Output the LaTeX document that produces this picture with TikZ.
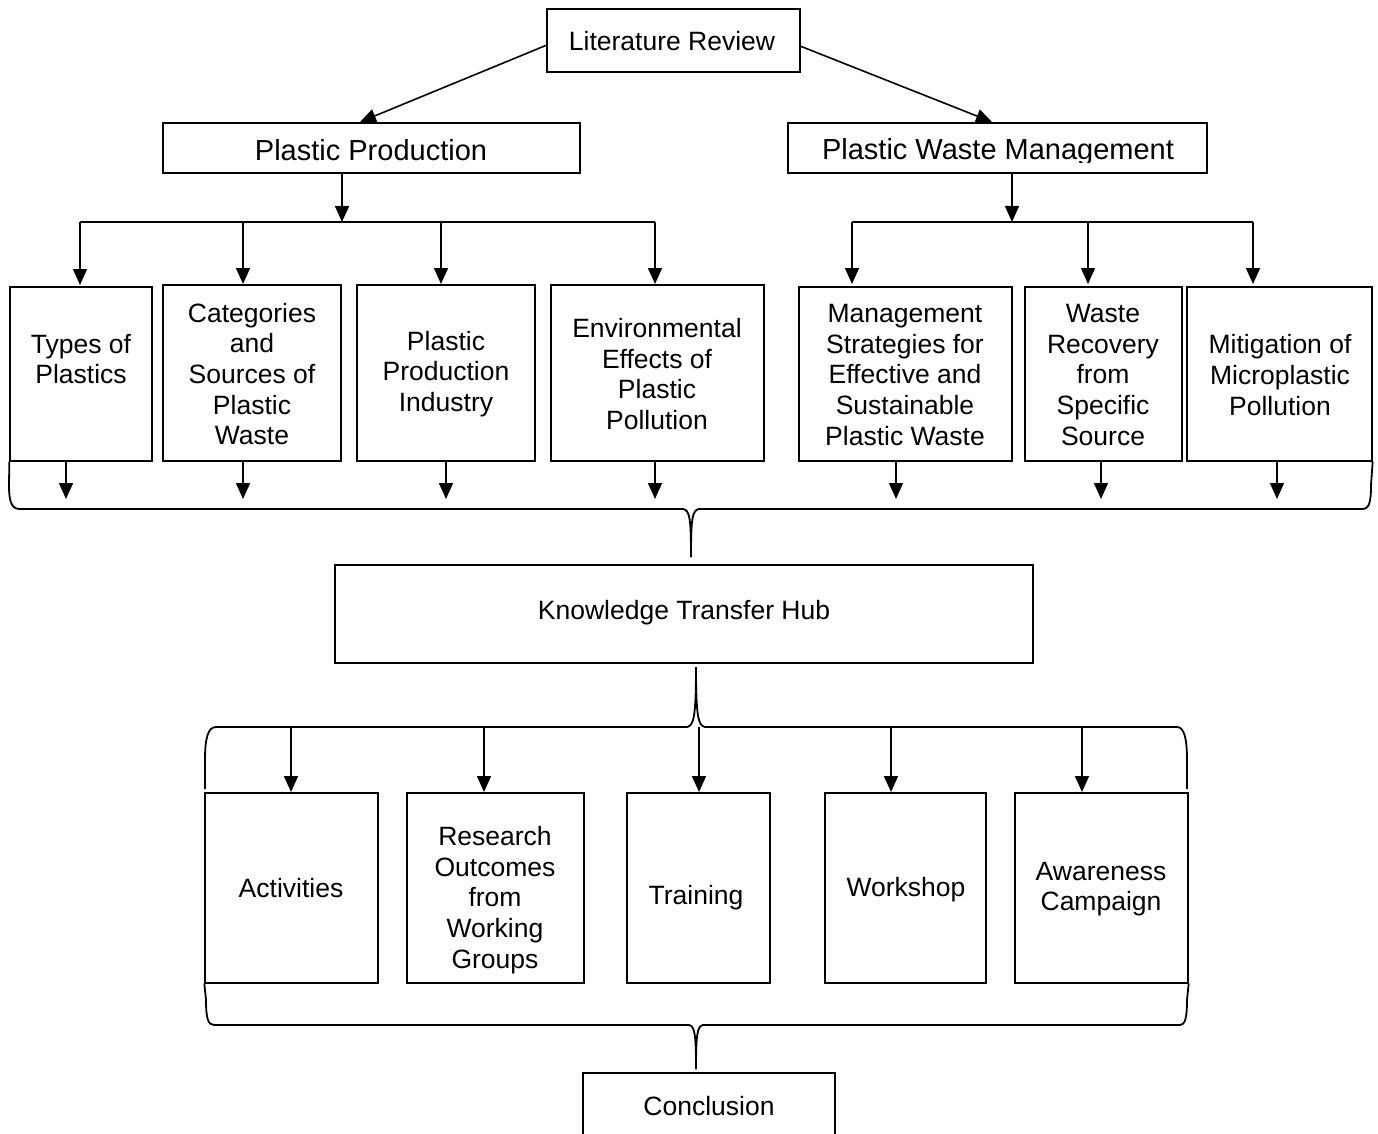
\documentclass[tikz,border=0pt]{standalone}
\usepackage{fontspec}
\setmainfont{Liberation Sans}
\usetikzlibrary{arrows.meta,positioning,fit}
\begin{document}
\begin{tikzpicture}[x=1pt,y=-1pt,
  box/.style={draw, line width=1.3pt, inner sep=0pt},
  txt/.style={align=center, inner sep=0pt, font=\fontsize{26.5}{30.7}\selectfont},
  head/.style={align=center, inner sep=0pt, font=\fontsize{29}{34}\selectfont},
  arr/.style={-{Triangle[width=14pt,length=16pt]}, line width=1.6pt},
  brace/.style={line width=1.8pt, line join=round}]
\useasboundingbox (0,0) rectangle (1378,1134);

% top
\node[box, fit={(547,9)(800,72)}] (lr) {};
\node[txt] (lrt) at (672,41) {Literature Review};
\node[box, fit={(163,123)(580,173)}] (pp) {};
\node[head] (ppt) at (371,150) {Plastic Production};
\node[box, fit={(788,123)(1207,173)}] (pwm) {};
\begin{scope}
\clip (788,123) rectangle (1207,163);
\node[head] (pwmt) at (998,152) {Plastic Waste Management};
\end{scope}

\coordinate (lrL) at (547,45);
\coordinate (lrR) at (800,46);
\draw[arr] (lrL) -- (360,122);
\draw[arr] (lrR) -- (992,122);

% buses
\coordinate (busL) at (342,222);
\coordinate (busR) at (1012,222);
\draw[arr] (pp.south -| busL) -- (busL);
\draw[arr] (pwm.south -| busR) -- (busR);
\draw[line width=1.6pt] (80,222) -- (655,222);
\draw[line width=1.6pt] (852,222) -- (1253,222);

% top row boxes
\node[box, fit={(10,287)(152,461)}] (b1) {};
\node[box, fit={(163,285)(341,461)}] (b2) {};
\node[box, fit={(357,285)(535,461)}] (b3) {};
\node[box, fit={(551,285)(764,461)}] (b4) {};
\node[box, fit={(799,287)(1012,461)}] (b5) {};
\node[box, fit={(1025,287)(1182,461)}] (b6) {};
\node[box, fit={(1187,287)(1372,461)}] (b7) {};

\node[txt] (t1) at (81,359) {Types of\\Plastics};
\node[txt] (t2) at (252,374) {Categories\\and\\Sources of\\Plastic\\Waste};
\node[txt] (t3) at (446,374) {Plastic\\Production\\Industry};
\node[txt] (t4) at (657,374) {Environmental\\Effects of\\Plastic\\Pollution};
\node[txt] (t5) at (905,375) {Management\\Strategies for\\Effective and\\Sustainable\\Plastic Waste};
\node[txt] (t6) at (1103,375) {Waste\\Recovery\\from\\Specific\\Source};
\node[txt] (t7) at (1280,375) {Mitigation of\\Microplastic\\Pollution};

\draw[arr] (80,222) -- (80,285);
\draw[arr] (243,222) -- (243,284);
\draw[arr] (441,222) -- (441,284);
\draw[arr] (655,222) -- (655,284);
\draw[arr] (852,222) -- (852,284);
\draw[arr] (1088,222) -- (1088,284);
\draw[arr] (1253,222) -- (1253,284);

% arrows into brace 1
\foreach \x in {66,243,446,655,896,1101,1277}
  \draw[arr] (\x,461) -- (\x,499);

% brace 1
\draw[brace] (b1.south west) -- (9,485) .. controls (9,503) and (12,509) .. (20,509)
  -- (683,509) .. controls (690,510) and (691,520) .. (691,557);
\draw[brace] (b7.south east) -- (1371,485) .. controls (1371,503) and (1369,509) .. (1362,509)
  -- (699,509) .. controls (692,510) and (691,520) .. (691,557);

% knowledge hub
\node[box, fit={(335,565)(1033,663)}] (kth) {};
\node[txt] (kt) at (684,613) {Knowledge Transfer Hub};

% brace 2 (upward cusp)
\draw[brace] (205,789) -- (205,760) .. controls (205,738) and (208,727) .. (216,727)
  -- (687,727) .. controls (694,726) and (696,715) .. (696,667);
\draw[brace] (1187,789) -- (1187,760) .. controls (1187,738) and (1184,727) .. (1177,727)
  -- (705,727) .. controls (698,726) and (696,715) .. (696,667);

% lower boxes
\node[box, fit={(205,793)(378,983)}] (c1) {};
\node[box, fit={(407,793)(584,983)}] (c2) {};
\node[box, fit={(627,793)(770,983)}] (c3) {};
\node[box, fit={(825,793)(986,983)}] (c4) {};
\node[box, fit={(1015,793)(1188,983)}] (c5) {};

\node[txt] (u1) at (291,888) {Activities};
\node[txt] (u2) at (495,900) {Research\\Outcomes\\from\\Working\\Groups};
\node[txt] (u3) at (696,898) {Training};
\node[txt] (u4) at (906,890) {Workshop};
\node[txt] (u5) at (1101,889) {Awareness\\Campaign};

\foreach \x in {291,484,699,891,1082}
  \draw[arr] (\x,727) -- (\x,792);

% brace 3
\draw[brace] (c1.south west) -- (206,1000) .. controls (206,1018) and (208,1025) .. (214,1025)
  -- (689,1025) .. controls (695,1026) and (696,1036) .. (696,1069);
\draw[brace] (c5.south east) -- (1187,1000) .. controls (1187,1018) and (1185,1025) .. (1180,1025)
  -- (703,1025) .. controls (697,1026) and (696,1036) .. (696,1069);

% conclusion
\node[box, fit={(583,1073)(835,1160)}] (con) {};
\node[txt] (cont) at (709,1106) {Conclusion};
\end{tikzpicture}
\end{document}
